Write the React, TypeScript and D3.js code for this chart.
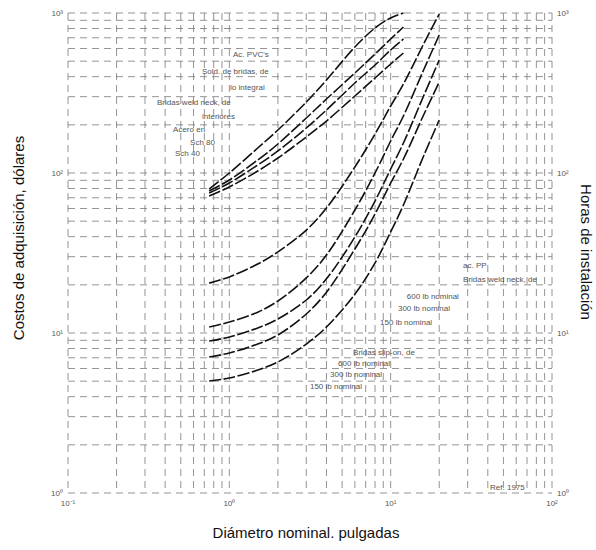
import React from "react";
import * as d3 from "d3";

// Nominal pipe diameters, inches
const upperDiam = [0.75, 1, 1.5, 2, 3, 4, 6, 8, 10, 12];
const lowerDiam = [0.75, 1, 1.5, 2, 3, 4, 6, 8, 10, 12, 16, 20];

// Upper group (purchase cost, dollars)
const upperA = [79.4, 100, 143.3, 185.7, 277.8, 381.3, 613, 806, 931, 1000];
const upperB = [77.2, 90.4, 120.6, 151.8, 220.7, 290, 421.7, 554, 688, 817.6];
const upperC = [75.0, 86.6, 112.2, 137.3, 191.1, 247.6, 365.2, 473.2, 587, 688];
const upperD = [71.8, 81.8, 102.9, 124.1, 167.9, 211.3, 302.9, 392.5, 480, 562.3];

// Lower group
const lowerA = [20.5, 22.4, 27.0, 32.1, 44.0, 60.4, 109.0, 175.3, 262.3, 359.9, 640, 985.7];
const lowerB = [10.9, 11.7, 13.5, 15.85, 22.1, 30.7, 58.7, 100, 158.5, 227.1, 440.3, 728.8];
const lowerC = [8.91, 9.44, 10.75, 12.24, 16.08, 21.8, 39.8, 66.8, 105.9, 154, 302.9, 508.4];
const lowerD = [7.08, 7.5, 8.53, 9.72, 13.15, 18.0, 33.5, 55.4, 86.6, 122.3, 230.4, 370.4];
const lowerE = [5.01, 5.23, 5.87, 6.59, 8.53, 10.9, 17.5, 27.4, 42.8, 63.1, 127.7, 214.4];

const xTicks = [0.1, 1, 10, 100];
const xTickLabels = ["10⁻¹", "10⁰", "10¹", "10²"];
const yTicks = [1, 10, 100, 1000];
const yTickLabels = ["10⁰", "10¹", "10²", "10³"];
const rightTickLabels = ["10⁰", "10¹", "10²", "10³"];

// Curve annotations: [text, diameter, cost]
const notes: [string, number, number][] = [
  ["Ac. PVC's", 1.054, 531],
  ["Sold. de bridas, de", 0.677, 415],
  ["lo integral", 1.01, 330],
  ["Bridas weld neck, de", 0.356, 266],
  ["interiores", 0.677, 218],
  ["Acero en", 0.448, 180],
  ["Sch 80", 0.571, 150],
  ["Sch 40", 0.46, 128],
  ["ac. PP", 28.1, 25.5],
  ["Bridas weld neck, de", 28.1, 20.8],
  ["600 lb nominal", 12.6, 16.3],
  ["300 lb nominal", 11.1, 13.7],
  ["150 lb nominal", 8.6, 11.2],
  ["Bridas slip-on, de", 5.85, 7.29],
  ["600 lb nominal", 4.72, 6.22],
  ["300 lb nominal", 4.21, 5.31],
  ["150 lb nominal", 3.16, 4.47],
  ["Ref. 1975", 41.3, 1.04],
];

const W = 596;
const H = 550;

export default function App() {
  const x = d3.scaleLog().domain([0.1, 100]).range([68, 552]);
  const y = d3.scaleLog().domain([1, 1000]).range([493, 13]);

  const gridX: number[] = [];
  const gridY: number[] = [];
  for (let k = -1; k < 2; k++) for (let d = 1; d < 10; d++) gridX.push(d * Math.pow(10, k));
  gridX.push(100);
  for (let k = 0; k < 3; k++) for (let d = 1; d < 10; d++) gridY.push(d * Math.pow(10, k));
  gridY.push(1000);

  const line = d3
    .line<[number, number]>()
    .x((d) => x(d[0]))
    .y((d) => y(d[1]))
    .curve(d3.curveCatmullRom.alpha(0.5));

  const upper = [upperA, upperB, upperC, upperD].map((s) =>
    line(upperDiam.map((dd, i) => [dd, s[i]] as [number, number]))
  );
  const lower = [lowerA, lowerB, lowerC, lowerD, lowerE].map((s) =>
    line(lowerDiam.map((dd, i) => [dd, s[i]] as [number, number]))
  );

  const [x0, x1] = x.range();
  const [yb, yt] = y.range();

  return (
    <svg
      width={W}
      height={H}
      style={{ position: "absolute", left: 0, top: 0, background: "#fff" }}
      fontFamily="Liberation Sans, Arial, sans-serif"
    >
      <rect width={W} height={H} fill="#fff" />
      <g stroke="#333" strokeWidth={0.8} strokeDasharray="7 5" opacity={0.65}>
        {gridX.map((v, i) => (
          <line key={"gx" + i} x1={x(v)} x2={x(v)} y1={yt} y2={yb} />
        ))}
        {gridY.map((v, i) => (
          <line key={"gy" + i} x1={x0} x2={x1} y1={y(v)} y2={y(v)} />
        ))}
      </g>
      <g fill="none" stroke="#111" strokeWidth={1.6} strokeDasharray="12 2.5">
        {upper.map((p, i) => (
          <path key={"u" + i} d={p || ""} />
        ))}
        {lower.map((p, i) => (
          <path key={"l" + i} d={p || ""} />
        ))}
      </g>
      <g fontSize={8} fill="#555">
        {notes.map(([t, dx, dy], i) => (
          <text key={"n" + i} x={x(dx)} y={y(dy)}>
            {t}
          </text>
        ))}
      </g>
      <g fontSize={8} fill="#555">
        {xTicks.map((v, i) => (
          <text key={"xt" + i} x={x(v)} y={506} textAnchor="middle">
            {xTickLabels[i]}
          </text>
        ))}
        {yTicks.map((v, i) => (
          <text key={"yt" + i} x={63} y={y(v) + 3} textAnchor="end">
            {yTickLabels[i]}
          </text>
        ))}
        {yTicks.map((v, i) => (
          <text key={"rt" + i} x={557} y={y(v) + 3} textAnchor="start">
            {rightTickLabels[i]}
          </text>
        ))}
      </g>
      <g fontSize={15} fill="#111">
        <text x={306} y={538} textAnchor="middle">
          Diámetro nominal. pulgadas
        </text>
        <text transform="translate(24,238) rotate(-90)" textAnchor="middle">
          Costos de adquisición, dólares
        </text>
        <text transform="translate(581,252) rotate(90)" textAnchor="middle">
          Horas de instalación
        </text>
      </g>
    </svg>
  );
}
